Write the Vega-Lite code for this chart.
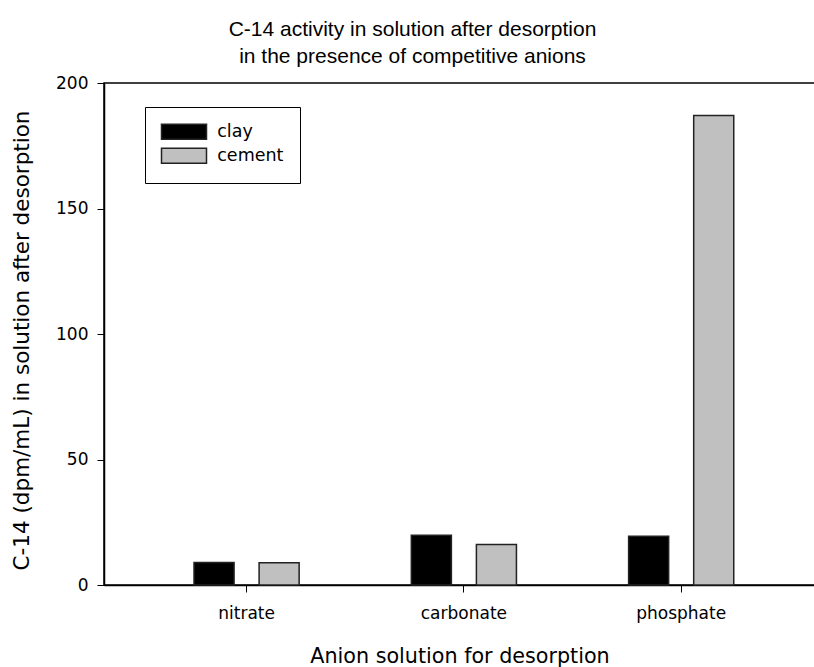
{
  "$schema": "https://vega.github.io/schema/vega-lite/v6.json",
  "autosize": "none",
  "width": 711,
  "height": 502,
  "padding": {"left": 104, "top": 83, "right": 0, "bottom": 82},
  "background": "white",
  "title": {
    "text": ["C-14 activity in solution after desorption", " in the presence of competitive anions"],
    "anchor": "middle",
    "dx": -47,
    "font": "Liberation Sans",
    "fontSize": 21,
    "fontWeight": "normal",
    "lineHeight": 27,
    "color": "black",
    "offset": 7
  },
  "config": {
    "view": {"stroke": "black", "strokeWidth": 1.5},
    "axis": {
      "labelFont": "DejaVu Sans",
      "titleFont": "DejaVu Sans",
      "labelColor": "black",
      "titleColor": "black",
      "domainColor": "black",
      "tickColor": "black",
      "titleFontWeight": "normal",
      "grid": false
    }
  },
  "data": {
    "values": [
      {"anion": "nitrate", "material": "clay", "activity": 9.0},
      {"anion": "nitrate", "material": "cement", "activity": 8.9},
      {"anion": "carbonate", "material": "clay", "activity": 19.8},
      {"anion": "carbonate", "material": "cement", "activity": 16.1},
      {"anion": "phosphate", "material": "clay", "activity": 19.4},
      {"anion": "phosphate", "material": "cement", "activity": 187.1}
    ]
  },
  "mark": {"type": "bar", "stroke": "#222222", "strokeWidth": 1.5},
  "encoding": {
    "x": {
      "field": "anion",
      "type": "nominal",
      "sort": ["nitrate", "carbonate", "phosphate"],
      "scale": {"paddingInner": 0.4, "paddingOuter": 0.336, "align": 0.53},
      "axis": {
        "title": "Anion solution for desorption",
        "titleFontSize": 20.7,
        "titlePadding": 25,
        "labelFontSize": 17,
        "labelAngle": 0,
        "labelPadding": 13,
        "tickSize": 7,
        "domainWidth": 1.5
      }
    },
    "xOffset": {
      "field": "material",
      "type": "nominal",
      "sort": ["clay", "cement"],
      "scale": {"paddingInner": 0.3846, "paddingOuter": 0.194}
    },
    "y": {
      "field": "activity",
      "type": "quantitative",
      "scale": {"domain": [0, 200], "nice": false},
      "axis": {
        "title": "C-14 (dpm/mL) in solution after desorption",
        "titleFontSize": 21.5,
        "titlePadding": 22,
        "titleY": 257,
        "labelFontSize": 17,
        "labelPadding": 9,
        "tickSize": 7,
        "values": [0, 50, 100, 150, 200],
        "domainWidth": 1.5
      }
    },
    "color": {
      "field": "material",
      "type": "nominal",
      "sort": ["clay", "cement"],
      "scale": {"domain": ["clay", "cement"], "range": ["#000000", "#c0c0c0"]},
      "legend": {
        "title": null,
        "orient": "none",
        "legendX": 41,
        "legendY": 24,
        "symbolType": "M-3,-1H3V1H-3Z",
        "symbolSize": 225,
        "symbolOffset": 14.25,
        "symbolStrokeColor": "#222222",
        "symbolStrokeWidth": 1.5,
        "symbolOpacity": 1,
        "labelFont": "DejaVu Sans",
        "labelFontSize": 17.5,
        "labelColor": "black",
        "labelOffset": 24.5,
        "labelExpr": "datum.label + '\u00a0'",
        "strokeColor": "black",
        "fillColor": "white",
        "padding": 16,
        "rowPadding": 2
      }
    }
  }
}
